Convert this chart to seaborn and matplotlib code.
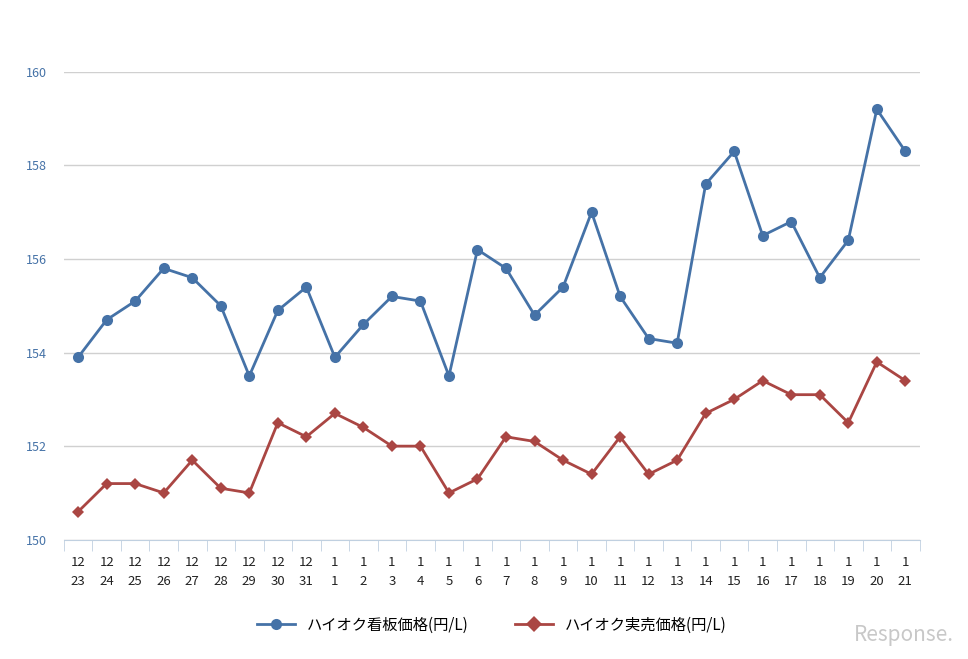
import matplotlib
matplotlib.use("Agg")
import matplotlib.pyplot as plt
import numpy as np
import pandas as pd
import seaborn as sns

months = [12] * 9 + [1] * 21
days = list(range(23, 32)) + list(range(1, 22))
kanban = [153.9, 154.7, 155.1, 155.8, 155.6, 155.0, 153.5, 154.9, 155.4,
          153.9, 154.6, 155.2, 155.1, 153.5, 156.2, 155.8, 154.8, 155.4, 157.0,
          155.2, 154.3, 154.2, 157.6, 158.3, 156.5, 156.8, 155.6, 156.4, 159.2, 158.3]
jitsubai = [150.6, 151.2, 151.2, 151.0, 151.7, 151.1, 151.0, 152.5, 152.2,
            152.7, 152.4, 152.0, 152.0, 151.0, 151.3, 152.2, 152.1, 151.7, 151.4,
            152.2, 151.4, 151.7, 152.7, 153.0, 153.4, 153.1, 153.1, 152.5, 153.8, 153.4]
labels = ["ハイオク看板価格(円/L)", "ハイオク実売価格(円/L)"]

plt.rcParams["font.family"] = ["Noto Sans CJK JP"]
df = pd.DataFrame({"x": np.arange(len(days)), labels[0]: kanban, labels[1]: jitsubai})
long = df.melt(id_vars="x", var_name="series", value_name="price")

fig = plt.figure(figsize=(9.68, 6.59), dpi=100)
ax = fig.add_axes([0.066, 0.181, 0.884, 0.71])
sns.lineplot(data=long, x="x", y="price", hue="series", style="series",
             palette=["#4572a7", "#aa4643"], markers={labels[0]: "o", labels[1]: "D"},
             dashes=False, markersize=8, linewidth=2, markeredgewidth=0, ax=ax)
for line in ax.lines[1:2]:
    line.set_markersize(6)

ax.set_xlim(-0.5, len(days) - 0.5)
ax.set_ylim(150, 160)
ax.set_yticks([150, 152, 154, 156, 158, 160])
ax.tick_params(axis="y", length=0, labelsize=9, colors="#4572a7", pad=12)
ax.set_xticks(df["x"])
ax.set_xticklabels([f"{m}\n{d}" for m, d in zip(months, days)], fontsize=9.5,
                   color="#222222", linespacing=1.6)
ax.set_xticks(np.arange(-0.5, len(days), 1), minor=True)
ax.tick_params(axis="x", which="major", length=0, pad=12)
ax.tick_params(axis="x", which="minor", length=8, color="#c0d0e0")
ax.grid(axis="y", color="#d0d0d0", linewidth=1)
ax.set_axisbelow(True)
for s in ["top", "right", "left"]:
    ax.spines[s].set_visible(False)
ax.spines["bottom"].set_color("#c0d0e0")
ax.set_xlabel("")
ax.set_ylabel("")

handles, lbls = ax.get_legend_handles_labels()
ax.legend(handles, lbls, loc="upper center", bbox_to_anchor=(0.5, -0.135), ncol=2,
          frameon=False, fontsize=11, handlelength=2.5, columnspacing=3)
fig.text(0.985, 0.02, "Response.", ha="right", va="bottom", fontsize=15,
         color="#c8c8c8", style="italic")
fig.savefig("out.png", dpi=100, facecolor="white")
